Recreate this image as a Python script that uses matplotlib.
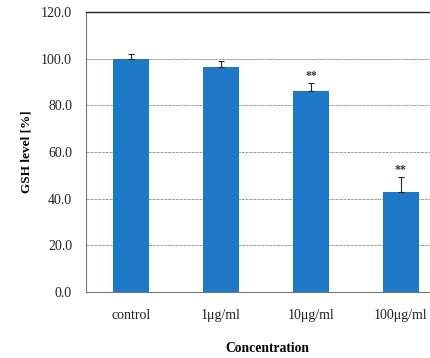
import numpy as np
import matplotlib.pyplot as plt

plt.rcParams['font.family'] = ['Liberation Serif', 'DejaVu Serif']

groups = ["control", "1\u03bcg/ml", "10\u03bcg/ml", "100\u03bcg/ml"]
gsh = [100.0, 96.4, 86.1, 42.9]
gsh_sd = [2.0, 2.6, 3.5, 6.4]
marks = ["", "", "**", "**"]

fig = plt.figure(figsize=(4.31, 3.58), dpi=100)
ax = fig.add_axes([0.1995, 0.1844, 0.835, 0.782])

x = np.arange(len(groups))
ax.bar(x, gsh, width=0.4, color='#1F78C6', zorder=3)
ax.errorbar(x, gsh, yerr=[np.zeros(len(gsh)), gsh_sd], fmt='none',
            ecolor='#222222', elinewidth=0.8, capsize=2, capthick=0.8, zorder=4)
for xi, v, e, m in zip(x, gsh, gsh_sd, marks):
    if m:
        ax.text(xi, v + e + 0.3, m, ha='center', va='bottom', fontsize=8.5,
                fontweight='bold', color='#333333')

ax.set_xlim(-0.5, len(groups) - 0.5)
ax.set_ylim(0, 120)
ax.set_yticks(np.arange(0, 121, 20))
ax.set_yticklabels([f"{t:.1f}" for t in np.arange(0, 121, 20)])
ax.set_xticks(x)
ax.set_xticklabels(groups)
ax.tick_params(axis='both', length=0, labelsize=10, colors='#222222')
ax.tick_params(axis='x', pad=12)
ax.tick_params(axis='y', pad=10)

ax.yaxis.grid(True, color='#9a9a9a', linestyle=(0, (3, 1)), linewidth=0.7, zorder=0)
ax.spines['right'].set_visible(False)
ax.spines['top'].set_color('#222222')
ax.spines['top'].set_linewidth(1.0)
ax.spines['left'].set_color('#777777')
ax.spines['bottom'].set_color('#777777')
ax.spines['left'].set_linewidth(0.8)
ax.spines['bottom'].set_linewidth(0.8)

ax.set_ylabel("GSH level [%]", fontsize=9.5, fontweight='bold', labelpad=6)
fig.text(267 / 431, 1 - 349 / 358, "Concentration", ha='center', va='center',
         fontsize=9.8, fontweight='bold')

fig.savefig("out.png", dpi=100)
